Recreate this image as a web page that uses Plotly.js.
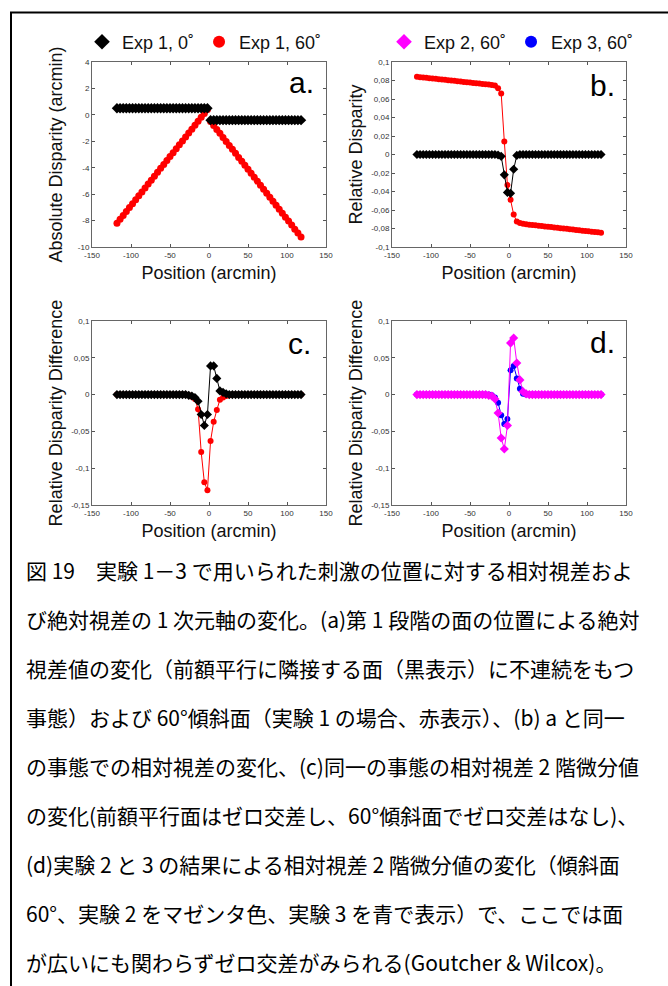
<!DOCTYPE html>
<html>
<head>
<meta charset="utf-8">
<script src="https://cdn.plot.ly/plotly-3.0.1.min.js"></script>
<style>html,body{margin:0;padding:0;background:#fff;}#chart{width:668px;height:986px;}</style>
</head>
<body>
<div id="chart"></div>
<script>
// Positions (arcmin)
const positions = [-118,-114,-110,-106,-102,-98,-94,-90,-86,-82,-78,-74,-70,-66,-62,-58,-54,-50,-46,-42,-38,-34,-30,-26,-22,-18,-14,-10,-6,-2,
  2,6,10,14,18,22,26,30,34,38,42,46,50,54,58,62,66,70,74,78,82,86,90,94,98,102,106,110,114,118];

// Panel a: absolute disparity (arcmin)
const absExp1_0 = [0.5,0.5,0.5,0.5,0.5,0.5,0.5,0.5,0.5,0.5,0.5,0.5,0.5,0.5,0.5,0.5,0.5,0.5,0.5,0.5,0.5,0.5,0.5,0.5,0.5,0.5,0.5,0.5,0.5,0.5,
  -0.4,-0.4,-0.4,-0.4,-0.4,-0.4,-0.4,-0.4,-0.4,-0.4,-0.4,-0.4,-0.4,-0.4,-0.4,-0.4,-0.4,-0.4,-0.4,-0.4,-0.4,-0.4,-0.4,-0.4,-0.4,-0.4,-0.4,-0.4,-0.4,-0.4];
const absExp1_60 = [-8.2,-7.9,-7.61,-7.31,-7.01,-6.72,-6.42,-6.12,-5.83,-5.53,-5.23,-4.94,-4.64,-4.34,-4.05,-3.75,-3.45,-3.16,-2.86,-2.56,-2.27,-1.97,-1.67,-1.38,-1.08,-0.78,-0.49,-0.19,0.11,0.4,
  -0.5,-0.8,-1.1,-1.4,-1.71,-2.01,-2.31,-2.61,-2.91,-3.22,-3.52,-3.82,-4.12,-4.42,-4.72,-5.03,-5.33,-5.63,-5.93,-6.23,-6.53,-6.84,-7.14,-7.44,-7.74,-8.04,-8.34,-8.65,-8.95,-9.25];

// Panel b: relative disparity
const relExp1_0 = [0,0,0,0,0,0,0,0,0,0,0,0,0,0,0,0,0,0,0,0,0,0,0,0,0,0,
  -0.0005,-0.002,-0.022,-0.041,-0.042,-0.016,-0.001,
  0,0,0,0,0,0,0,0,0,0,0,0,0,0,0,0,0,0,0,0,0,0,0,0,0,0,0];
const relExp1_60 = [0.0840,0.0836,0.0833,0.0829,0.0825,0.0822,0.0818,0.0814,0.0811,0.0807,0.0803,0.0800,0.0796,0.0792,0.0789,0.0785,0.0781,0.0778,0.0774,0.0770,0.0767,0.0763,0.0759,0.0756,0.0752,
  0.0745,0.0715,0.066,0.014,-0.033,
  -0.049,-0.065,-0.0725,-0.074,-0.0748,
  -0.0755,-0.0759,-0.0763,-0.0766,-0.0770,-0.0774,-0.0778,-0.0781,-0.0785,-0.0789,-0.0793,-0.0796,-0.0800,-0.0804,-0.0808,-0.0811,-0.0815,-0.0819,-0.0823,-0.0826,-0.0830,-0.0834,-0.0838,-0.0841,-0.0845];

// Panel c: relative disparity difference (Exp 1)
const diffExp1_0 = [0,0,0,0,0,0,0,0,0,0,0,0,0,0,0,0,0,0,0,0,0,0,0,
  -0.001,-0.002,-0.004,-0.009,-0.027,-0.042,-0.027,0.039,0.039,0.022,0.005,0.003,0.001,
  0,0,0,0,0,0,0,0,0,0,0,0,0,0,0,0,0,0,0,0,0,0,0,0];
const diffExp1_60 = [0,0,0,0,0,0,0,0,0,0,0,0,0,0,0,0,0,0,0,0,0,0,0,
  -0.001,-0.003,-0.006,-0.020,-0.078,-0.119,-0.130,-0.063,-0.037,-0.021,-0.007,-0.004,-0.002,-0.001,
  0,0,0,0,0,0,0,0,0,0,0,0,0,0,0,0,0,0,0,0,0,0,0];

// Panel d: relative disparity difference (Exp 2, Exp 3)
const diffExp3_60 = [0,0,0,0,0,0,0,0,0,0,0,0,0,0,0,0,0,0,0,0,0,0,0,
  0,-0.001,-0.004,-0.011,-0.028,-0.040,-0.033,0.033,0.039,0.022,0.008,0.001,0,
  0,0,0,0,0,0,0,0,0,0,0,0,0,0,0,0,0,0,0,0,0,0,0,0];
const diffExp2_60 = [0,0,0,0,0,0,0,0,0,0,0,0,0,0,0,0,0,0,0,0,0,0,0,
  -0.001,-0.002,-0.006,-0.025,-0.059,-0.074,-0.042,0.070,0.077,0.043,0.020,0.004,0.001,
  0,0,0,0,0,0,0,0,0,0,0,0,0,0,0,0,0,0,0,0,0,0,0,0];

// Tick labels
const xTickVals = [-150,-100,-50,0,50,100,150];
const xTickText = ['-150','-100','-50','0','50','100','150'];
const aTickVals = [-10,-8,-6,-4,-2,0,2,4];
const aTickText = ['-10','-8','-6','-4','-2','0','2','4'];
const bTickVals = [-0.1,-0.08,-0.06,-0.04,-0.02,0,0.02,0.04,0.06,0.08,0.1];
const bTickText = ['-0,1','-0,08','-0,06','-0,04','-0,02','0','0,02','0,04','0,06','0,08','0,1'];
const cdTickVals = [-0.15,-0.1,-0.05,0,0.05,0.1];
const cdTickText = ['-0,15','-0,1','-0,05','0','0,05','0,1'];

const legendNames = ['Exp 1, 0˚','Exp 1, 60˚','Exp 2, 60˚','Exp 3, 60˚'];
const captionLines = [
  '図 19　実験 1－3 で用いられた刺激の位置に対する相対視差およ',
  'び絶対視差の 1 次元軸の変化。(a)第 1 段階の面の位置による絶対',
  '視差値の変化（前額平行に隣接する面（黒表示）に不連続をもつ',
  '事態）および 60°傾斜面（実験 1 の場合、赤表示）、(b) a と同一',
  'の事態での相対視差の変化、(c)同一の事態の相対視差 2 階微分値',
  'の変化(前額平行面はゼロ交差し、60°傾斜面でゼロ交差はなし)、',
  '(d)実験 2 と 3 の結果による相対視差 2 階微分値の変化（傾斜面',
  '60°、実験 2 をマゼンタ色、実験 3 を青で表示）で、ここでは面',
  'が広いにも関わらずゼロ交差がみられる(Goutcher & Wilcox)。'
];

const W = 668, H = 986;
const px = v => v / W;
const py = v => 1 - v / H;

const BLACK = '#000000', RED = '#ff0000', MAG = '#ff00ff', BLUE = '#0000ff';
const diamondBlack = {symbol:'diamond', size:8, color:BLACK};
const circleRed = {symbol:'circle', size:7, color:RED};

const traces = [
  // panel a
  {x:positions, y:absExp1_60, xaxis:'x', yaxis:'y', mode:'markers', marker:circleRed, name:legendNames[1], legend:'legend', showlegend:false},
  {x:positions, y:absExp1_0, xaxis:'x', yaxis:'y', mode:'markers', marker:diamondBlack, name:legendNames[0], legend:'legend', showlegend:false},
  // panel b
  {x:positions, y:relExp1_60, xaxis:'x2', yaxis:'y2', mode:'lines+markers', marker:{symbol:'circle', size:6, color:RED}, line:{color:RED, width:1}, showlegend:false},
  {x:positions, y:relExp1_0, xaxis:'x2', yaxis:'y2', mode:'lines+markers', marker:{symbol:'diamond', size:7, color:BLACK}, line:{color:BLACK, width:1}, showlegend:false},
  // panel c
  {x:positions, y:diffExp1_60, xaxis:'x3', yaxis:'y3', mode:'lines+markers', marker:{symbol:'circle', size:6, color:RED}, line:{color:RED, width:1}, showlegend:false},
  {x:positions, y:diffExp1_0, xaxis:'x3', yaxis:'y3', mode:'lines+markers', marker:{symbol:'diamond', size:7, color:BLACK}, line:{color:BLACK, width:1}, showlegend:false},
  // panel d
  {x:positions, y:diffExp3_60, xaxis:'x4', yaxis:'y4', mode:'lines+markers', marker:{symbol:'circle', size:6, color:BLUE}, line:{color:BLUE, width:1}, showlegend:false},
  {x:positions, y:diffExp2_60, xaxis:'x4', yaxis:'y4', mode:'lines+markers', marker:{symbol:'diamond', size:7, color:MAG}, line:{color:MAG, width:1}, showlegend:false},
  // legend entries (marker-only keys)
  {x:[null], y:[null], xaxis:'x', yaxis:'y', mode:'markers', marker:diamondBlack, name:legendNames[0], legend:'legend', showlegend:true},
  {x:[null], y:[null], xaxis:'x', yaxis:'y', mode:'markers', marker:circleRed, name:legendNames[1], legend:'legend', showlegend:true},
  {x:[null], y:[null], xaxis:'x4', yaxis:'y4', mode:'markers', marker:{symbol:'diamond', size:7, color:MAG}, name:legendNames[2], legend:'legend2', showlegend:true},
  {x:[null], y:[null], xaxis:'x4', yaxis:'y4', mode:'markers', marker:{symbol:'circle', size:6, color:BLUE}, name:legendNames[3], legend:'legend2', showlegend:true}
];

const FONT = 'Liberation Sans, Arial, Helvetica, sans-serif';
const CJK = 'Noto Sans CJK JP, sans-serif';

function xAxis(domain, anchor) {
  return {domain:domain, anchor:anchor, range:[-150,150], tickvals:xTickVals, ticktext:xTickText,
    ticks:'inside', ticklen:3, tickcolor:'#555', mirror:'ticks', showline:true, linecolor:'#666', linewidth:1,
    showgrid:false, zeroline:false, tickfont:{size:8, color:'#333', family:FONT},
    title:{text:'Position (arcmin)', font:{size:18, color:'#111', family:FONT}, standoff:7}};
}
function yAxis(domain, anchor, range, vals, text, title, standoff) {
  return {domain:domain, anchor:anchor, range:range, tickvals:vals, ticktext:text,
    ticks:'inside', ticklen:3, tickcolor:'#555', mirror:'ticks', showline:true, linecolor:'#666', linewidth:1,
    showgrid:false, zeroline:false, tickfont:{size:8, color:'#333', family:FONT},
    title:{text:title, font:{size:18, color:'#111', family:FONT}, standoff:standoff}};
}

const topDom = [py(247), py(62)];
const botDom = [py(505), py(321)];
const leftDom = [px(92), px(326)];
const rightDom = [px(392), px(626)];

const annotations = [
  {text:'a.', x:px(316), y:py(83), xref:'paper', yref:'paper', xanchor:'right', yanchor:'middle', showarrow:false, font:{size:30, color:'#000', family:FONT}},
  {text:'b.', x:px(617), y:py(86), xref:'paper', yref:'paper', xanchor:'right', yanchor:'middle', showarrow:false, font:{size:30, color:'#000', family:FONT}},
  {text:'c.', x:px(313), y:py(343), xref:'paper', yref:'paper', xanchor:'right', yanchor:'middle', showarrow:false, font:{size:30, color:'#000', family:FONT}},
  {text:'d.', x:px(617), y:py(342), xref:'paper', yref:'paper', xanchor:'right', yanchor:'middle', showarrow:false, font:{size:30, color:'#000', family:FONT}}
];
const lineY = [570,619,668,717,766,815,864,913,962];
captionLines.forEach((t, i) => {
  annotations.push({text:t, x:px(24), y:py(lineY[i]), xref:'paper', yref:'paper', xanchor:'left', yanchor:'middle',
    showarrow:false, align:'left', font:{size:21, color:'#000', family:CJK}});
});

const layout = {
  width:W, height:H, margin:{l:0, r:0, t:0, b:0}, paper_bgcolor:'#fff', plot_bgcolor:'#fff',
  font:{family:FONT, color:'#000'},
  xaxis:xAxis(leftDom, 'y'), yaxis:yAxis(topDom, 'x', [-10,4], aTickVals, aTickText, 'Absolute Disparity (arcmin)', 10),
  xaxis2:xAxis(rightDom, 'y2'), yaxis2:yAxis(topDom, 'x2', [-0.1,0.1], bTickVals, bTickText, 'Relative Disparity', 3),
  xaxis3:xAxis(leftDom, 'y3'), yaxis3:yAxis(botDom, 'x3', [-0.15,0.1], cdTickVals, cdTickText, 'Relative Disparity Difference', 3),
  xaxis4:xAxis(rightDom, 'y4'), yaxis4:yAxis(botDom, 'x4', [-0.15,0.1], cdTickVals, cdTickText, 'Relative Disparity Difference', 3),
  legend:{orientation:'h', x:px(82), y:py(42), xanchor:'left', yanchor:'middle', font:{size:18, family:FONT, color:'#111'},
    itemsizing:'constant', itemwidth:30, bgcolor:'rgba(0,0,0,0)', borderwidth:0},
  legend2:{orientation:'h', x:px(384), y:py(42), xanchor:'left', yanchor:'middle', font:{size:18, family:FONT, color:'#111'},
    itemsizing:'constant', itemwidth:30, bgcolor:'rgba(0,0,0,0)', borderwidth:0},
  annotations:annotations,
  shapes:[
    {type:'line', xref:'paper', yref:'paper', x0:px(11), y0:0, x1:px(11), y1:py(12.5), line:{color:'#000', width:2}},
    {type:'line', xref:'paper', yref:'paper', x0:px(10), y0:py(12.5), x1:1, y1:py(12.5), line:{color:'#000', width:2}}
  ]
};

Plotly.newPlot('chart', traces, layout, {staticPlot:true, displayModeBar:false});
</script>
</body>
</html>
